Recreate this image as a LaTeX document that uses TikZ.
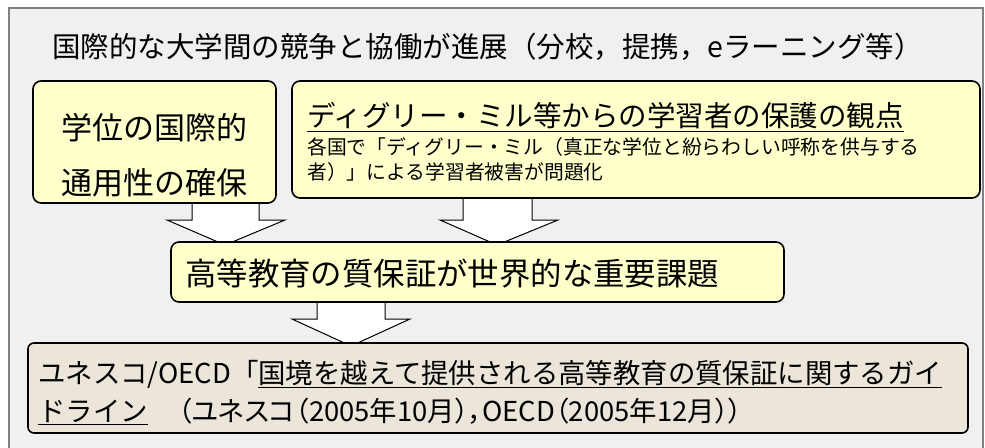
\documentclass[tikz,border=0pt]{standalone}
\usepackage{fontspec}
\setmainfont{Noto Sans CJK JP}
\newfontfamily\jpp[RawFeature=+palt]{Noto Sans CJK JP}
\definecolor{bgc}{RGB}{240,240,242}
\definecolor{frame}{RGB}{128,128,128}
\definecolor{yel}{RGB}{255,255,204}
\definecolor{beige}{RGB}{235,229,218}
\begin{document}
\begin{tikzpicture}[x=1pt,y=-1pt,
  ybox/.style={draw=black,line width=1.6pt,fill=yel,rounded corners=8pt,inner sep=0pt},
  bbox/.style={draw=black,line width=1.6pt,fill=beige,rounded corners=6pt,inner sep=0pt},
  blk/.style={draw=black,line width=1pt,fill=white,line join=miter},
  txt/.style={inner sep=0pt,anchor=west,text=black}]
\useasboundingbox (0,0) rectangle (985,447);
\begin{scope}
\clip (0,0) rectangle (985,447);
\draw[draw=frame,line width=1.5pt,fill=bgc] (9,8) rectangle (983,470);
\end{scope}
% title
\node[txt] (title) at (52,47) {\fontsize{28.5}{34}\selectfont 国際的な大学間の競争と協働が進展（分校，提携，eラーニング等）};
% tips of block arrows
\coordinate (t1) at (225,245);
\coordinate (t2) at (497,245);
\coordinate (t3) at (351,346);
\draw[blk] (t1) -- ++(-58,-25) -- ++(25,0) -- ++(0,-22) -- ++(67,0) -- ++(0,22) -- ++(26,0) -- cycle;
\draw[blk] (t2) -- ++(-57,-25) -- ++(23,0) -- ++(0,-27) -- ++(69,0) -- ++(0,27) -- ++(26,0) -- cycle;
\draw[blk] (t3) -- ++(-59,-27) -- ++(25,0) -- ++(0,-20) -- ++(68,0) -- ++(0,20) -- ++(25,0) -- cycle;
% boxes
\node[ybox,minimum width=243pt,minimum height=122pt] (b1) at (154.5,142) {};
\node[ybox,minimum width=688pt,minimum height=117pt] (b2) at (636,139.5) {};
\node[ybox,minimum width=613pt,minimum height=60pt] (b3) at (477.5,272) {};
\node[bbox,minimum width=940pt,minimum height=90pt] (b4) at (498,388) {};
% texts
\node[inner sep=0pt] (b1a) at (154,128) {\fontsize{31}{36}\selectfont 学位の国際的};
\node[inner sep=0pt] (b1b) at (154,183) {\fontsize{31}{36}\selectfont 通用性の確保};
\node[txt] (b2a) at (307,117) {\fontsize{28.5}{34}\selectfont \underline{ディグリー・ミル等からの学習者の保護の観点}};
\node[txt] (b2b) at (307,147) {\fontsize{19.8}{24}\selectfont 各国で「ディグリー・ミル（真正な学位と紛らわしい呼称を供与する};
\node[txt] (b2c) at (307,172) {\fontsize{19.8}{24}\selectfont 者）」による学習者被害が問題化};
\node[txt] (b3a) at (185,274) {\fontsize{31.4}{36}\selectfont 高等教育の質保証が世界的な重要課題};
\node[txt] (b4a) at (38,374) {\fontsize{27.4}{32}\selectfont ユネスコ/OECD「\underline{国境を越えて提供される高等教育の質保証に関するガイ}};
\node[txt] (b4b) at (38,411) {\fontsize{27.4}{32}\selectfont \underline{ドライン}\hspace{1.1em}{\jpp （ユネスコ（2005年10月），OECD（2005年12月））}};
\end{tikzpicture}
\end{document}
